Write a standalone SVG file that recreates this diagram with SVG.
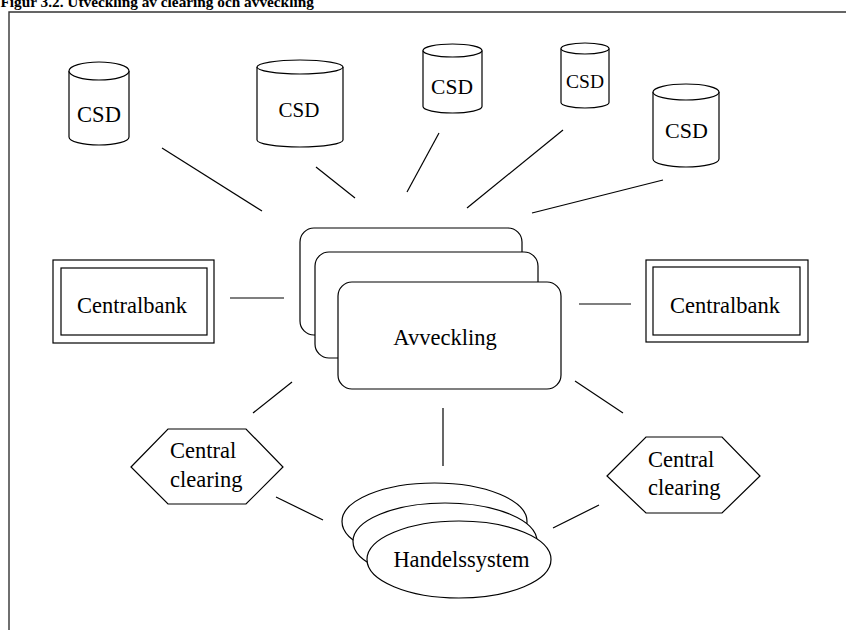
<svg xmlns="http://www.w3.org/2000/svg" width="846" height="630" viewBox="0 0 846 630">
<style>
.s{fill:#fff;stroke:#000;stroke-width:1.2}
.t{font-family:'Liberation Serif','Times New Roman',serif;font-size:22.5px;fill:#000}
.c{text-anchor:middle}
.ln{stroke:#000;stroke-width:1.2;fill:none}
</style>
<rect width="846" height="630" fill="#fff"/>
<text x="0.5" y="6.5" font-family="'Liberation Serif','Times New Roman',serif" font-weight="bold" font-size="15.3">Figur 3.2. Utveckling av clearing och avveckling</text>
<path d="M9,630 V12 H846" fill="none" stroke="#333" stroke-width="1.4"/>
<g id="connectors">
<line class="ln" x1="162" y1="148" x2="262" y2="211"/>
<line class="ln" x1="316" y1="167" x2="355" y2="198"/>
<line class="ln" x1="439" y1="133" x2="407" y2="192"/>
<line class="ln" x1="563" y1="130" x2="467" y2="208"/>
<line class="ln" x1="663" y1="180" x2="532" y2="213"/>
<line class="ln" x1="230" y1="298" x2="284" y2="298"/>
<line class="ln" x1="579" y1="304" x2="631" y2="304"/>
<line class="ln" x1="292" y1="382" x2="253" y2="413"/>
<line class="ln" x1="443" y1="408" x2="443" y2="466"/>
<line class="ln" x1="575" y1="381" x2="623" y2="413"/>
<line class="ln" x1="276" y1="497" x2="323" y2="520"/>
<line class="ln" x1="553" y1="528" x2="599" y2="505"/>
</g>
<g id="csd1">
<path class="s" d="M69,71 V137 A30,8 0 0 0 129,137 V71"/>
<ellipse class="s" cx="99" cy="71" rx="30" ry="9"/>
<text class="t c" font-family="'Liberation Serif','Times New Roman',serif" x="99" y="122">CSD</text>
</g>
<g id="csd2">
<path class="s" d="M257,67 V140 A43,7 0 0 0 343,140 V67"/>
<ellipse class="s" cx="300" cy="67" rx="43" ry="7"/>
<text class="t c" font-family="'Liberation Serif','Times New Roman',serif" x="299" y="117" style="font-size:21px">CSD</text>
</g>
<g id="csd3">
<path class="s" d="M423,50.5 V106.5 A29.5,6.5 0 0 0 482,106.5 V50.5"/>
<ellipse class="s" cx="452.5" cy="50.5" rx="29.5" ry="6.5"/>
<text class="t c" font-family="'Liberation Serif','Times New Roman',serif" x="452" y="94" style="font-size:21.5px">CSD</text>
</g>
<g id="csd4">
<path class="s" d="M561,48.5 V102.5 A24,5.5 0 0 0 609,102.5 V48.5"/>
<ellipse class="s" cx="585" cy="48.5" rx="24" ry="5.5"/>
<text class="t c" font-family="'Liberation Serif','Times New Roman',serif" x="585" y="88" style="font-size:19.5px">CSD</text>
</g>
<g id="csd5">
<path class="s" d="M653,92 V159 A33,8 0 0 0 719,159 V92"/>
<ellipse class="s" cx="686" cy="92" rx="33" ry="8"/>
<text class="t c" font-family="'Liberation Serif','Times New Roman',serif" x="686.5" y="138" style="font-size:22px">CSD</text>
</g>
<g id="centralbank-left">
<rect class="s" x="53" y="260" width="161" height="83"/>
<rect class="s" x="61" y="268" width="146" height="67"/>
<text class="t c" font-family="'Liberation Serif','Times New Roman',serif" x="132" y="313">Centralbank</text>
</g>
<g id="centralbank-right">
<rect class="s" x="646" y="260" width="162" height="82"/>
<rect class="s" x="653" y="267" width="147" height="68"/>
<text class="t c" font-family="'Liberation Serif','Times New Roman',serif" x="725" y="313">Centralbank</text>
</g>
<g id="avveckling">
<rect class="s" x="300" y="228" width="222" height="107" rx="14"/>
<rect class="s" x="315" y="252" width="223" height="106" rx="14"/>
<rect class="s" x="338" y="282" width="223" height="107" rx="14"/>
<text class="t c" font-family="'Liberation Serif','Times New Roman',serif" x="445" y="345">Avveckling</text>
</g>
<g id="central-clearing-left">
<polygon class="s" points="131,467 168,429 246,429 283,467 246,504 168,504"/>
<text class="t" font-family="'Liberation Serif','Times New Roman',serif" x="170" y="458">Central</text>
<text class="t" font-family="'Liberation Serif','Times New Roman',serif" x="170" y="487">clearing</text>
</g>
<g id="central-clearing-right">
<polygon class="s" points="607,476 646,437 722,437 760,476 722,513 646,513"/>
<text class="t" font-family="'Liberation Serif','Times New Roman',serif" x="648" y="467">Central</text>
<text class="t" font-family="'Liberation Serif','Times New Roman',serif" x="648" y="495">clearing</text>
</g>
<g id="handelssystem">
<ellipse class="s" cx="434.5" cy="521.5" rx="92.5" ry="38.5"/>
<ellipse class="s" cx="445" cy="541.5" rx="92" ry="38.5"/>
<ellipse class="s" cx="459" cy="559.5" rx="92" ry="38.5"/>
<text class="t c" font-family="'Liberation Serif','Times New Roman',serif" x="461.5" y="567">Handelssystem</text>
</g>
</svg>
